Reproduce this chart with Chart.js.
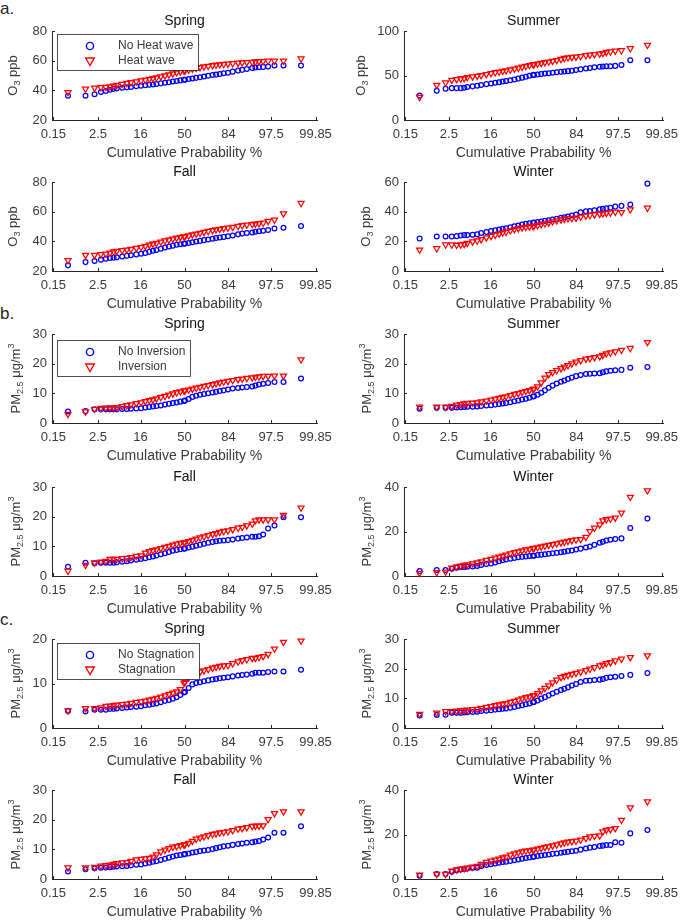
<!DOCTYPE html>
<html>
<head>
<meta charset="utf-8">
<script src="https://cdn.jsdelivr.net/npm/chart.js@4.4.1/dist/chart.umd.min.js"></script>
<style>
body { margin: 0; background: #fff; width: 685px; height: 920px; position: relative; overflow: hidden; font-family: "Liberation Sans", Arial, sans-serif; }
canvas { position: absolute; }
.sec { position: absolute; left: 0; font-size: 17px; line-height: 16px; color: #262626; }
</style>
</head>
<body>
<div class="sec" style="top:1px">a.</div>
<div class="sec" style="top:306px">b.</div>
<div class="sec" style="top:612px">c.</div>
<script>
// ranks of the plotted points out of N sorted days (normal probability plot positions)
const N = 120;
const ranks = [1, 2, 3, 4, 5, 6, 7, 8,
    10, 12, 14, 17, 20, 23, 26, 29,
    32, 36, 40, 44, 48, 52, 56, 60,
    61, 65, 69, 73, 77, 81, 85, 89,
    92, 95, 98, 101, 104, 107, 109, 111,
    113, 114, 115, 116, 117, 118, 119, 120];

const xTickPct = [0.15, 2.5, 16, 50, 84, 97.5, 99.85];
const xTickLabels = ['0.15', '2.5', '16', '50', '84', '97.5', '99.85'];

// a. O3 (ppb), heat wave
const o3SpringNoHW = [36.4, 36.4, 37.3, 38.9, 39.6, 40.4, 41.0, 41.3,
    41.7, 42.0, 42.3, 42.7, 43.1, 43.4, 43.7, 44.0,
    44.3, 44.7, 45.1, 45.5, 45.9, 46.3, 46.7, 47.1,
    47.2, 47.6, 48.0, 48.4, 48.8, 49.3, 49.8, 50.3,
    50.6, 51.0, 51.5, 51.9, 52.6, 53.3, 53.8, 54.4,
    55.0, 55.4, 55.6, 55.8, 56.0, 56.7, 56.7, 56.7];
const o3SpringHW = [38.7, 40.9, 41.6, 42.0, 42.2, 42.5, 43.0, 43.5,
    44.2, 44.8, 45.3, 45.9, 46.5, 47.0, 47.6, 48.1,
    48.5, 49.2, 49.9, 50.6, 51.3, 52.0, 52.6, 53.1,
    53.2, 53.8, 54.4, 55.0, 55.5, 56.0, 56.4, 56.8,
    57.1, 57.4, 57.6, 57.8, 58.1, 58.5, 58.7, 58.9,
    59.1, 59.3, 59.5, 59.6, 59.8, 59.8, 59.8, 61.3];
const o3SummerNoHW = [27.5, 32.8, 35.1, 35.8, 35.8, 35.8, 36.2, 37.0,
    37.8, 38.5, 39.3, 40.3, 41.1, 41.8, 42.5, 43.2,
    43.8, 44.6, 45.5, 46.5, 47.6, 48.7, 49.7, 50.5,
    50.7, 51.2, 51.7, 52.2, 52.6, 53.1, 53.6, 54.1,
    54.5, 54.9, 55.4, 56.1, 56.9, 57.8, 58.5, 59.2,
    59.8, 60.1, 60.3, 60.5, 60.8, 61.9, 67.2, 67.2];
const o3SummerHW = [25.7, 39.2, 41.9, 44.9, 45.7, 46.4, 46.8, 47.9,
    48.7, 49.4, 50.2, 51.3, 52.5, 53.4, 54.2, 55.0,
    55.6, 56.5, 57.5, 58.5, 59.6, 60.6, 61.5, 62.3,
    62.4, 63.1, 63.9, 64.7, 65.4, 66.2, 67.1, 68.3,
    69.4, 70.2, 70.6, 70.9, 71.5, 72.5, 73.2, 73.8,
    74.3, 75.0, 76.2, 76.7, 77.7, 78.1, 80.4, 84.2];
const o3FallNoHW = [23.8, 26.0, 26.7, 27.6, 28.3, 28.7, 29.0, 29.2,
    29.8, 30.2, 30.6, 31.2, 31.6, 32.2, 32.9, 33.6,
    34.2, 35.0, 35.8, 36.5, 37.1, 37.7, 38.1, 38.4,
    38.5, 38.9, 39.4, 39.9, 40.3, 40.8, 41.3, 41.8,
    42.2, 42.6, 43.0, 43.4, 44.0, 44.7, 45.2, 45.6,
    46.0, 46.4, 46.8, 47.2, 47.6, 48.6, 49.1, 50.4];
const o3FallHW = [27.2, 30.7, 30.7, 31.2, 31.6, 32.3, 33.0, 33.4,
    33.9, 34.3, 34.8, 35.5, 36.0, 36.8, 37.6, 38.3,
    38.8, 39.7, 40.4, 41.0, 41.7, 42.3, 42.8, 43.1,
    43.2, 43.8, 44.5, 45.1, 45.6, 46.2, 46.8, 47.4,
    47.9, 48.3, 48.7, 49.1, 49.6, 50.2, 50.7, 51.1,
    51.5, 51.8, 52.1, 52.4, 53.6, 54.5, 58.7, 65.7];
const o3WinterNoHW = [21.9, 23.3, 23.3, 23.3, 23.5, 24.0, 24.2, 24.2,
    24.5, 24.8, 25.6, 26.3, 26.9, 27.4, 27.9, 28.4,
    28.8, 29.5, 30.1, 30.7, 31.3, 31.8, 32.2, 32.5,
    32.6, 33.0, 33.4, 33.8, 34.2, 34.7, 35.2, 35.8,
    36.3, 36.8, 37.4, 38.0, 39.6, 40.3, 40.5, 41.0,
    41.6, 42.0, 42.3, 42.6, 43.4, 43.9, 44.8, 58.9];
const o3WinterHW = [14.3, 15.2, 17.7, 17.7, 17.5, 17.7, 18.1, 18.8,
    19.8, 20.4, 21.3, 22.5, 23.5, 24.3, 25.1, 25.8,
    26.3, 27.3, 28.1, 28.7, 29.2, 29.6, 29.9, 30.2,
    30.3, 30.8, 31.4, 32.0, 32.6, 33.3, 34.0, 34.6,
    35.0, 35.4, 35.6, 35.8, 36.5, 37.2, 37.6, 38.0,
    38.5, 38.7, 39.0, 39.3, 39.8, 39.6, 41.4, 42.5];

// b. PM2.5, inversion
const pmSpringNoInv = [3.9, 4.0, 4.6, 4.6, 4.6, 4.6, 4.6, 4.6,
    4.7, 4.7, 4.8, 4.9, 5.0, 5.2, 5.4, 5.6,
    5.7, 5.9, 6.2, 6.5, 6.7, 6.9, 7.2, 7.4,
    7.6, 8.1, 8.8, 9.2, 9.5, 9.8, 10.0, 10.3,
    10.5, 10.8, 11.0, 11.3, 11.6, 11.8, 12.0, 12.1,
    12.3, 12.6, 13.0, 13.2, 13.5, 13.8, 13.8, 15.0];
const pmSpringInv = [3.0, 3.8, 4.7, 5.0, 5.1, 5.2, 5.2, 5.3,
    5.6, 5.9, 6.2, 6.6, 6.9, 7.3, 7.6, 7.9,
    8.2, 8.7, 9.1, 9.5, 9.9, 10.3, 10.6, 10.8,
    10.9, 11.2, 11.5, 11.8, 12.1, 12.4, 12.7, 13.0,
    13.3, 13.6, 13.9, 14.1, 14.4, 14.7, 14.9, 15.1,
    15.3, 15.5, 15.6, 15.8, 15.8, 15.9, 15.9, 21.4];
const pmSummerNoInv = [4.8, 5.1, 5.1, 5.1, 5.2, 5.3, 5.4, 5.5,
    5.5, 5.6, 5.7, 5.9, 6.0, 6.2, 6.4, 6.6,
    6.7, 7.0, 7.3, 7.6, 7.9, 8.2, 8.5, 8.9,
    9.0, 9.5, 10.2, 11.0, 11.9, 12.6, 13.3, 13.9,
    14.3, 14.8, 15.3, 15.8, 16.2, 16.5, 16.6, 16.7,
    16.8, 17.1, 17.4, 17.6, 17.8, 17.9, 18.6, 18.9];
const pmSummerInv = [5.4, 5.4, 5.4, 5.7, 6.1, 6.3, 6.5, 6.7,
    6.8, 6.9, 7.2, 7.5, 7.8, 8.1, 8.4, 8.7,
    8.9, 9.3, 9.7, 10.0, 10.4, 10.7, 11.0, 11.3,
    11.5, 12.3, 13.6, 15.2, 16.4, 17.1, 17.7, 18.4,
    18.9, 19.4, 20.0, 20.6, 21.1, 21.6, 21.8, 22.1,
    22.4, 22.9, 23.4, 23.7, 24.1, 24.6, 25.2, 27.2];
const pmFallNoInv = [3.1, 4.5, 4.3, 4.5, 4.5, 4.5, 4.5, 4.6,
    4.8, 5.0, 5.2, 5.5, 5.7, 6.0, 6.3, 6.6,
    6.9, 7.3, 7.7, 8.1, 8.5, 8.8, 9.0, 9.2,
    9.3, 9.6, 9.9, 10.2, 10.5, 10.9, 11.2, 11.5,
    11.7, 11.9, 12.0, 12.1, 12.3, 12.6, 12.8, 13.0,
    13.2, 13.2, 13.4, 14.0, 16.0, 17.0, 19.8, 19.8];
const pmFallInv = [1.7, 3.7, 4.5, 4.8, 5.0, 5.7, 5.7, 5.7,
    5.9, 6.0, 6.3, 6.7, 6.9, 7.8, 8.3, 8.6,
    8.9, 9.3, 9.7, 10.1, 10.5, 10.8, 11.1, 11.2,
    11.3, 11.7, 12.1, 12.5, 12.9, 13.3, 13.7, 14.1,
    14.4, 14.8, 15.1, 15.3, 15.7, 16.2, 16.5, 17.0,
    17.6, 18.7, 19.0, 19.0, 19.0, 19.0, 20.5, 23.0];
const pmWinterNoInv = [2.2, 2.7, 2.7, 3.3, 3.7, 4.0, 4.0, 4.2,
    4.3, 4.5, 5.0, 5.4, 5.6, 6.1, 6.6, 7.1,
    7.4, 7.8, 8.1, 8.4, 8.6, 8.8, 9.0, 9.1,
    9.1, 9.4, 9.6, 9.8, 10.0, 10.2, 10.4, 10.7,
    10.9, 11.2, 11.5, 11.9, 12.3, 12.8, 13.3, 14.0,
    14.9, 15.4, 16.0, 16.3, 16.6, 16.9, 21.6, 25.8];
const pmWinterInv = [1.3, 1.6, 1.9, 3.7, 4.2, 4.6, 4.9, 5.1,
    5.6, 6.0, 6.5, 7.1, 7.6, 8.1, 8.6, 9.1,
    9.5, 10.1, 10.6, 11.0, 11.4, 11.8, 12.1, 12.4,
    12.5, 12.8, 13.2, 13.5, 13.9, 14.2, 14.6, 15.0,
    15.3, 15.7, 16.0, 16.3, 16.5, 17.5, 20.1, 21.6,
    23.1, 24.9, 25.4, 25.7, 26.1, 28.4, 35.5, 38.4];

// c. PM2.5, stagnation
const pmSpringNoStag = [3.8, 3.7, 4.1, 4.1, 4.1, 4.3, 4.3, 4.4,
    4.5, 4.6, 4.7, 4.8, 4.9, 5.1, 5.2, 5.4,
    5.5, 5.8, 6.1, 6.3, 6.6, 6.9, 7.4, 8.0,
    8.1, 9.0, 9.8, 10.1, 10.3, 10.5, 10.7, 10.9,
    11.0, 11.2, 11.3, 11.4, 11.6, 11.8, 11.9, 12.0,
    12.2, 12.4, 12.4, 12.4, 12.6, 12.7, 12.7, 13.1];
const pmSpringStag = [3.9, 4.4, 4.4, 4.6, 4.9, 5.0, 5.1, 5.2,
    5.3, 5.4, 5.6, 5.8, 5.9, 6.1, 6.3, 6.5,
    6.7, 7.0, 7.3, 7.6, 7.9, 8.2, 8.7, 10.1,
    10.3, 11.3, 11.9, 12.3, 12.6, 12.9, 13.2, 13.5,
    13.7, 13.9, 14.0, 14.1, 14.5, 14.9, 15.2, 15.4,
    15.7, 15.7, 15.9, 16.1, 16.6, 17.8, 19.3, 19.6];
const pmSummerNoStag = [4.2, 4.4, 4.5, 5.1, 5.1, 5.1, 5.2, 5.3,
    5.4, 5.5, 5.7, 5.8, 6.0, 6.2, 6.3, 6.5,
    6.6, 6.8, 7.1, 7.4, 7.7, 8.0, 8.3, 8.7,
    8.8, 9.3, 9.9, 10.4, 11.0, 11.6, 12.2, 12.8,
    13.2, 13.7, 14.3, 14.8, 15.5, 15.9, 16.0, 16.2,
    16.3, 16.5, 16.9, 17.1, 17.3, 17.5, 17.9, 18.5];
const pmSummerStag = [4.7, 5.1, 5.6, 5.6, 5.8, 5.9, 6.0, 6.1,
    6.3, 6.4, 6.7, 7.0, 7.3, 7.6, 7.9, 8.1,
    8.3, 8.7, 9.1, 9.5, 9.9, 10.3, 10.6, 10.9,
    11.0, 11.7, 12.6, 13.4, 14.3, 15.3, 16.2, 17.1,
    17.5, 17.8, 18.2, 18.5, 18.9, 19.4, 19.9, 20.4,
    21.0, 21.3, 21.8, 22.1, 22.7, 23.3, 23.8, 24.4];
const pmFallNoStag = [2.5, 3.3, 3.6, 3.8, 3.9, 4.0, 4.1, 4.2,
    4.3, 4.4, 4.6, 4.8, 4.9, 5.2, 5.5, 5.8,
    6.0, 6.4, 6.8, 7.2, 7.6, 7.9, 8.1, 8.3,
    8.4, 8.6, 8.9, 9.1, 9.4, 9.6, 9.8, 10.1,
    10.4, 10.7, 11.0, 11.2, 11.5, 11.8, 12.0, 12.2,
    12.4, 12.6, 12.8, 13.3, 14.0, 15.6, 15.6, 17.8];
const pmFallStag = [3.8, 3.8, 4.0, 4.4, 4.6, 4.8, 5.0, 5.3,
    5.5, 5.6, 6.0, 6.5, 6.7, 6.9, 7.0, 7.5,
    8.2, 9.2, 9.8, 10.3, 10.8, 11.0, 11.3, 11.5,
    11.6, 12.1, 12.8, 13.5, 13.9, 14.3, 14.7, 15.1,
    15.3, 15.6, 15.8, 16.0, 16.4, 16.9, 17.1, 17.4,
    17.8, 17.9, 17.9, 18.0, 20.1, 22.1, 22.7, 22.7];
const pmWinterNoStag = [1.5, 2.2, 2.2, 3.3, 3.9, 4.3, 4.5, 4.7,
    4.9, 5.1, 5.7, 6.3, 6.6, 7.0, 7.3, 7.6,
    7.8, 8.1, 8.4, 8.8, 9.1, 9.4, 9.7, 10.0,
    10.0, 10.3, 10.6, 10.8, 11.0, 11.3, 11.5, 11.8,
    12.0, 12.2, 12.5, 12.7, 13.2, 13.7, 14.1, 14.4,
    14.8, 15.0, 15.3, 15.3, 16.5, 16.3, 20.5, 22.0];
const pmWinterStag = [1.8, 2.2, 2.2, 3.6, 4.2, 4.5, 4.7, 5.0,
    5.4, 5.8, 6.7, 7.6, 8.1, 8.6, 9.1, 9.6,
    10.0, 10.8, 11.4, 11.9, 12.3, 12.6, 12.8, 13.0,
    13.1, 13.5, 13.9, 14.3, 14.6, 15.0, 15.4, 15.9,
    16.3, 16.7, 16.9, 17.1, 17.6, 18.3, 19.0, 19.3,
    19.5, 21.3, 22.0, 22.3, 22.8, 26.5, 32.1, 34.8];

const FONT = '"Liberation Sans", Arial, sans-serif';
const AXIS = '#262626';
const TEXT = '#3a3a3a';
const BLUE = '#0000ff';
const RED = '#ff0000';

// inverse normal cdf (Acklam)
function normInv(p) {
    const a = [-39.69683028665376, 220.9460984245205, -275.9285104469687, 138.357751867269, -30.66479806614716, 2.506628277459239];
    const b = [-54.47609879822406, 161.5858368580409, -155.6989798598866, 66.80131188771972, -13.28068155288572];
    const c = [-0.007784894002430293, -0.3223964580411365, -2.400758277161838, -2.549732539343734, 4.374664141464968, 2.938163982698783];
    const d = [0.007784695709041462, 0.3224671290700398, 2.445134137142996, 3.754408661907416];
    const pl = 0.02425;
    let q, r;
    if (p < pl) {
        q = Math.sqrt(-2 * Math.log(p));
        return (((((c[0] * q + c[1]) * q + c[2]) * q + c[3]) * q + c[4]) * q + c[5]) / ((((d[0] * q + d[1]) * q + d[2]) * q + d[3]) * q + 1);
    }
    if (p > 1 - pl) {
        q = Math.sqrt(-2 * Math.log(1 - p));
        return -(((((c[0] * q + c[1]) * q + c[2]) * q + c[3]) * q + c[4]) * q + c[5]) / ((((d[0] * q + d[1]) * q + d[2]) * q + d[3]) * q + 1);
    }
    q = p - 0.5; r = q * q;
    return (((((a[0] * r + a[1]) * r + a[2]) * r + a[3]) * r + a[4]) * r + a[5]) * q / (((((b[0] * r + b[1]) * r + b[2]) * r + b[3]) * r + b[4]) * r + 1);
}

const zPos = ranks.map(k => normInv((k - 0.5) / N));
const zTicks = xTickPct.map(p => normInv(p / 100));

const O3_LABEL = [['O', 0], ['3', 1], [' ppb', 0]];
const PM_LABEL = [['PM', 0], ['2.5', 1], [' \u03bcg/m', 0], ['3', 2]];

// row plot tops (page px); col 0 left, col 1 right
const rowTops = [31, 182, 334, 487, 639, 790];

const panels = [
    { row: 0, col: 0, title: 'Spring', yl: O3_LABEL, ylx: 12, min: 20, max: 80, step: 20, blue: o3SpringNoHW, red: o3SpringHW, legend: { dy: 3, names: ['No Heat wave', 'Heat wave'] } },
    { row: 0, col: 1, title: 'Summer', yl: O3_LABEL, ylx: 20, min: 0, max: 100, step: 50, blue: o3SummerNoHW, red: o3SummerHW },
    { row: 1, col: 0, title: 'Fall', yl: O3_LABEL, ylx: 12, min: 20, max: 80, step: 20, blue: o3FallNoHW, red: o3FallHW },
    { row: 1, col: 1, title: 'Winter', yl: O3_LABEL, ylx: 25, min: 0, max: 60, step: 20, blue: o3WinterNoHW, red: o3WinterHW },
    { row: 2, col: 0, title: 'Spring', yl: PM_LABEL, ylx: 15, min: 0, max: 30, step: 10, blue: pmSpringNoInv, red: pmSpringInv, legend: { dy: 6, names: ['No Inversion', 'Inversion'] } },
    { row: 2, col: 1, title: 'Summer', yl: PM_LABEL, ylx: 26, min: 0, max: 30, step: 10, blue: pmSummerNoInv, red: pmSummerInv },
    { row: 3, col: 0, title: 'Fall', yl: PM_LABEL, ylx: 15, min: 0, max: 30, step: 10, blue: pmFallNoInv, red: pmFallInv },
    { row: 3, col: 1, title: 'Winter', yl: PM_LABEL, ylx: 26, min: 0, max: 40, step: 20, blue: pmWinterNoInv, red: pmWinterInv },
    { row: 4, col: 0, title: 'Spring', yl: PM_LABEL, ylx: 15, min: 0, max: 20, step: 10, blue: pmSpringNoStag, red: pmSpringStag, legend: { dy: 4, names: ['No Stagnation', 'Stagnation'] } },
    { row: 4, col: 1, title: 'Summer', yl: PM_LABEL, ylx: 26, min: 0, max: 30, step: 10, blue: pmSummerNoStag, red: pmSummerStag },
    { row: 5, col: 0, title: 'Fall', yl: PM_LABEL, ylx: 15, min: 0, max: 30, step: 10, blue: pmFallNoStag, red: pmFallStag },
    { row: 5, col: 1, title: 'Winter', yl: PM_LABEL, ylx: 26, min: 0, max: 40, step: 20, blue: pmWinterNoStag, red: pmWinterStag }
];

// rotated y label with sub/superscripts
function drawRich(ctx, segs, cx, cy) {
    const fonts = ['13px ' + FONT, '9px ' + FONT, '9px ' + FONT];
    let total = 0;
    segs.forEach(s => { ctx.font = fonts[s[1]]; total += ctx.measureText(s[0]).width; });
    ctx.save();
    ctx.translate(cx, cy);
    ctx.rotate(-Math.PI / 2);
    ctx.textAlign = 'left';
    ctx.textBaseline = 'alphabetic';
    ctx.fillStyle = TEXT;
    let xx = -total / 2;
    segs.forEach(s => {
        ctx.font = fonts[s[1]];
        const dy = s[1] === 1 ? 3.5 : (s[1] === 2 ? -6 : 0);
        ctx.fillText(s[0], xx, 4.7 + dy);
        xx += ctx.measureText(s[0]).width;
    });
    ctx.restore();
}

function drawLegend(ctx, area, lg) {
    const x0 = Math.round(area.left + 5), y0 = Math.round(area.top + lg.dy), h = 36;
    ctx.font = '12px ' + FONT;
    const tw = Math.max(...lg.names.map(n => ctx.measureText(n).width));
    const w = Math.round(61 + tw + 5);
    ctx.fillStyle = '#fff';
    ctx.fillRect(x0, y0, w, h);
    ctx.strokeStyle = AXIS;
    ctx.lineWidth = 0.8;
    ctx.strokeRect(x0 + 0.5, y0 + 0.5, w, h);
    const mx = x0 + 33, r1 = y0 + 12, r2 = y0 + 26.5;
    ctx.lineWidth = 1.4;
    ctx.strokeStyle = BLUE;
    ctx.beginPath();
    ctx.arc(mx, r1, 3.6, 0, Math.PI * 2);
    ctx.stroke();
    const t = 5;
    ctx.strokeStyle = RED;
    ctx.beginPath();
    ctx.moveTo(mx, r2 + t);
    ctx.lineTo(mx - t * 0.866, r2 - t / 2);
    ctx.lineTo(mx + t * 0.866, r2 - t / 2);
    ctx.closePath();
    ctx.stroke();
    ctx.fillStyle = TEXT;
    ctx.textAlign = 'left';
    ctx.textBaseline = 'middle';
    ctx.fillText(lg.names[0], x0 + 61, r1);
    ctx.fillText(lg.names[1], x0 + 61, r2);
}

const decor = {
    id: 'decor',
    afterDraw(chart) {
        const p = chart.options.plugins.decor;
        const { ctx, chartArea: a, scales: { x, y } } = chart;
        ctx.save();
        // inward tick marks
        ctx.strokeStyle = AXIS;
        ctx.lineWidth = 1;
        ctx.beginPath();
        x.ticks.forEach(t => {
            const px = Math.round(x.getPixelForValue(t.value)) + 0.5;
            ctx.moveTo(px, a.bottom);
            ctx.lineTo(px, a.bottom - 3);
        });
        y.ticks.forEach(t => {
            const py = Math.round(y.getPixelForValue(t.value)) + 0.5;
            ctx.moveTo(a.left, py);
            ctx.lineTo(a.left + 3, py);
        });
        ctx.stroke();
        const cx = (a.left + a.right) / 2;
        ctx.textAlign = 'center';
        ctx.textBaseline = 'middle';
        ctx.fillStyle = '#111';
        ctx.font = '14px ' + FONT;
        ctx.fillText(p.title, cx, a.top - 10);
        ctx.fillStyle = TEXT;
        ctx.fillText('Cumulative Prabability %', cx, a.bottom + 33);
        drawRich(ctx, p.yl, p.ylx, (a.top + a.bottom) / 2);
        if (p.legend) drawLegend(ctx, a, p.legend);
        ctx.restore();
    }
};

const PAD_TOP = 30, PLOT_H = 89, BOTTOM = 41;

panels.forEach(p => {
    const cv = document.createElement('canvas');
    const left = p.col === 0 ? 0 : 340;
    const cw = p.col === 0 ? 340 : 345;
    const yw = p.col === 0 ? 52 : 64;
    const padR = p.col === 0 ? 23 : 16;
    const ch = PAD_TOP + PLOT_H + BOTTOM;
    cv.width = cw;
    cv.height = ch;
    cv.style.left = left + 'px';
    cv.style.top = (rowTops[p.row] - PAD_TOP) + 'px';
    cv.style.width = cw + 'px';
    cv.style.height = ch + 'px';
    document.body.appendChild(cv);

    const toPts = vals => vals.map((v, i) => ({ x: zPos[i], y: v }));

    new Chart(cv, {
        type: 'scatter',
        plugins: [decor],
        data: {
            datasets: [{
                label: 'red',
                data: toPts(p.red),
                pointStyle: 'triangle',
                pointRotation: 180,
                pointRadius: 3.5,
                pointBorderWidth: 1.25,
                pointBorderColor: RED,
                pointBackgroundColor: 'rgba(0,0,0,0)',
                clip: false,
                order: 0
            }, {
                label: 'blue',
                data: toPts(p.blue),
                pointStyle: 'circle',
                pointRadius: 2.4,
                pointBorderWidth: 1.25,
                pointBorderColor: BLUE,
                pointBackgroundColor: 'rgba(0,0,0,0)',
                clip: false,
                order: 1
            }]
        },
        options: {
            responsive: false,
            animation: false,
            events: [],
            layout: { padding: { top: PAD_TOP, left: 0, right: padR, bottom: 0 } },
            plugins: {
                legend: { display: false },
                tooltip: { enabled: false },
                decor: { title: p.title, yl: p.yl, ylx: p.ylx, legend: p.legend }
            },
            scales: {
                x: {
                    type: 'linear',
                    min: -3,
                    max: 3,
                    afterBuildTicks: ax => { ax.ticks = zTicks.map(v => ({ value: v })); },
                    afterFit: s => { s.height = BOTTOM; },
                    grid: { display: false, drawTicks: false },
                    border: { display: true, color: AXIS, width: 1 },
                    ticks: {
                        autoSkip: false,
                        maxRotation: 0,
                        padding: 7,
                        color: TEXT,
                        font: { family: FONT, size: 13 },
                        callback: (v, i) => xTickLabels[i]
                    }
                },
                y: {
                    type: 'linear',
                    min: p.min,
                    max: p.max,
                    afterFit: s => { s.width = yw; },
                    grid: { display: false, drawTicks: false },
                    border: { display: true, color: AXIS, width: 1 },
                    ticks: {
                        stepSize: p.step,
                        padding: 5,
                        color: TEXT,
                        font: { family: FONT, size: 13 }
                    }
                }
            }
        }
    });
});
</script>
</body>
</html>
